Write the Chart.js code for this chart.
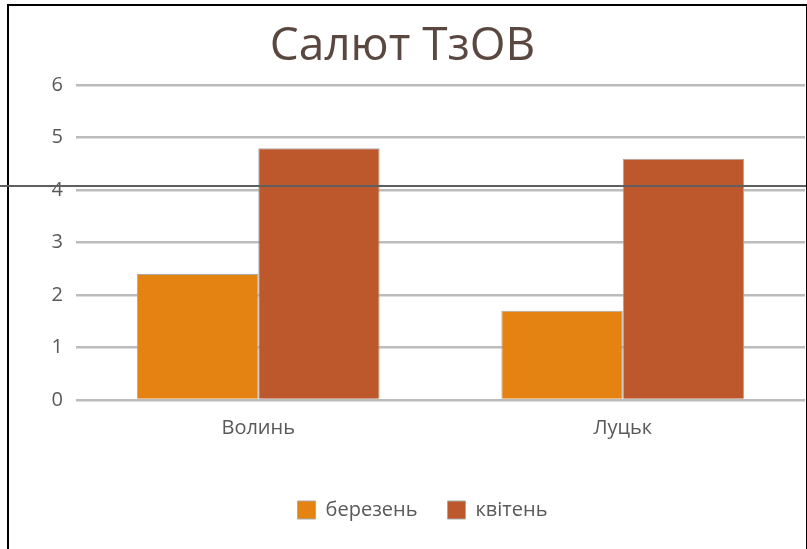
<!DOCTYPE html>
<html>
<head>
<meta charset="utf-8">
<title>Салют ТзОВ</title>
<script src="https://cdn.jsdelivr.net/npm/chart.js@4.4.1/dist/chart.umd.min.js"></script>
<style>
  html, body { margin: 0; padding: 0; background: #fff; }
  #wrap { position: relative; width: 807px; height: 549px; overflow: hidden; }
  #chart { position: absolute; left: 0; top: 0; }
  /* frame around the pasted chart, open at the bottom */
  #frame { position: absolute; left: 7px; top: 4px; width: 797px; height: 560px;
           border-left: 2px solid #000; border-top: 2px solid #000; border-right: 2px solid #000; }
  /* stray ruler line that cuts across the screenshot */
  #stray { position: absolute; left: 0; top: 185px; width: 806px; height: 2px; background: #5f5f5f; }
</style>
</head>
<body>
<div id="wrap">
  <canvas id="chart" width="807" height="549"></canvas>
  <div id="frame"></div>
  <div id="stray"></div>
</div>
<script>
// Data
const categories = ["Волинь", "Луцьк"];
const seriesNames = ["березень", "квітень"];
const marchValues = [2.4, 1.7];
const aprilValues = [4.8, 4.6];
const yTicks = [0, 1, 2, 3, 4, 5, 6];

const FONT = "'Open Sans', 'Noto Sans', sans-serif";
const TEXT = "#595959";

// the original legend sits a little right of the canvas centre
const legendNudge = {
  id: "legendNudge",
  afterLayout(chart) {
    if (!chart.legend) return;
    chart.legend.left += 20;
    chart.legend.right += 20;
  }
};

new Chart(document.getElementById("chart").getContext("2d"), {
  type: "bar",
  data: {
    labels: categories,
    datasets: [
      { label: seriesNames[0], data: marchValues, backgroundColor: "#e48312", borderColor: "#a9a9a9", borderWidth: 1 },
      { label: seriesNames[1], data: aprilValues, backgroundColor: "#bd582c", borderColor: "#a9a9a9", borderWidth: 1 }
    ]
  },
  plugins: [legendNudge],
  options: {
    responsive: false,
    animation: false,
    layout: { padding: { left: 0, right: 2, top: 0, bottom: 19 } },
    datasets: { bar: { categoryPercentage: 0.666, barPercentage: 1 } },
    plugins: {
      title: {
        display: true,
        text: "Салют ТзОВ",
        color: "#5a4840",
        font: { family: FONT, size: 46, weight: "normal" },
        padding: { top: 19, bottom: 11 }
      },
      legend: {
        position: "bottom",
        labels: {
          color: TEXT,
          font: { family: FONT, size: 20 },
          boxWidth: 18, boxHeight: 18,
          padding: 30
        }
      },
      tooltip: { enabled: false }
    },
    scales: {
      x: {
        grid: { display: false, drawTicks: false },
        border: { display: false },
        ticks: { color: TEXT, font: { family: FONT, size: 20 }, padding: 16 },
        afterFit: s => { s.height = 70; }
      },
      y: {
        min: yTicks[0],
        max: yTicks[yTicks.length - 1],
        afterBuildTicks: s => { s.ticks = yTicks.map(v => ({ value: v })); },
        grid: { color: "#bcbcbc", lineWidth: 2.5, drawTicks: false },
        border: { display: false },
        ticks: { color: TEXT, font: { family: FONT, size: 20 }, padding: 13 },
        afterFit: s => { s.width = 76; }
      }
    }
  }
});
</script>
</body>
</html>
